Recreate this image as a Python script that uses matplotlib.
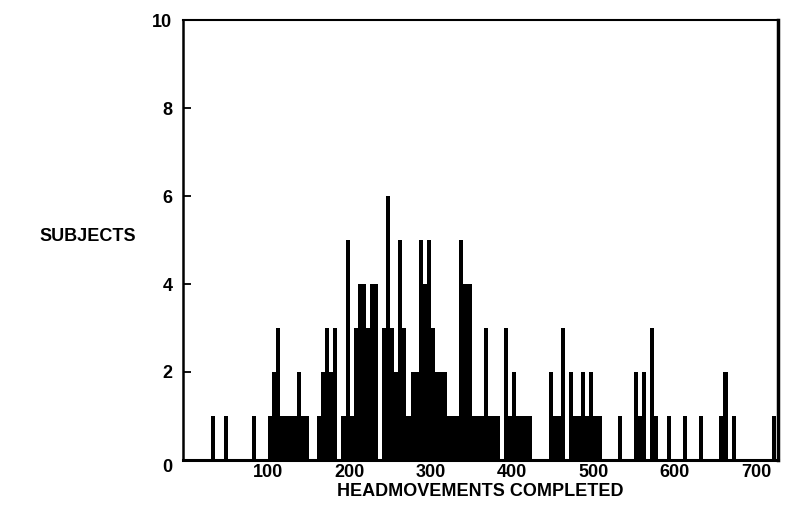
import matplotlib
matplotlib.use("Agg")
import matplotlib.pyplot as plt
from matplotlib.ticker import FixedLocator, NullLocator

# Histogram of head movements completed per subject (bin width 5)
bin_width = 5
bin_left = [30, 45, 80,
            100, 105, 110, 115, 120, 125, 130, 135, 140, 145,
            160, 165, 170, 175, 180,
            190, 195, 200,
            205, 210, 215, 220, 225, 230,
            240, 245, 250, 255, 260, 265, 270,
            275, 280, 285, 290, 295, 300, 305, 310, 315,
            320, 325, 330, 335, 340, 345,
            350, 355, 360, 365, 370, 375, 380,
            390, 395, 400, 405, 410, 415, 420,
            445, 450, 455, 460,
            470, 475, 480, 485, 490, 495, 500, 505,
            530, 550, 555, 560, 570, 575, 590, 610, 630,
            655, 660, 670, 720]
subjects = [1, 1, 1,
            1, 2, 3, 1, 1, 1, 1, 2, 1, 1,
            1, 2, 3, 2, 3,
            1, 5, 1,
            3, 4, 4, 3, 4, 4,
            3, 6, 3, 2, 5, 3, 1,
            2, 2, 5, 4, 5, 3, 2, 2, 2,
            1, 1, 1, 5, 4, 4,
            1, 1, 1, 3, 1, 1, 1,
            3, 1, 2, 1, 1, 1, 1,
            2, 1, 1, 3,
            2, 1, 1, 2, 1, 2, 1, 1,
            1, 2, 1, 2, 3, 1, 1, 1, 1,
            1, 2, 1, 1]

x_ticks = [100, 200, 300, 400, 500, 600, 700]
y_ticks = [2, 4, 6, 8, 10]

plt.rcParams['font.family'] = ['Liberation Sans', 'DejaVu Sans']
plt.rcParams['font.weight'] = 'bold'

fig = plt.figure(figsize=(7.94, 5.2), dpi=100)
ax = fig.add_axes([0.2311, 0.1154, 0.9798 - 0.2311, 0.9615 - 0.1154])

ax.bar(bin_left, subjects, width=bin_width, align='edge',
       color='black', edgecolor='none', linewidth=0)

ax.set_xlim(-4.3, 727)
ax.set_ylim(0, 10)

ax.xaxis.set_major_locator(FixedLocator(x_ticks))
ax.set_xticklabels([str(v) for v in x_ticks], fontsize=13, fontweight='bold')
ax.tick_params(axis='x', length=0, pad=3)

ax.yaxis.set_major_locator(FixedLocator(y_ticks))
ax.set_yticklabels([str(v) for v in y_ticks], fontsize=13, fontweight='bold')
ax.tick_params(axis='y', direction='in', length=6, width=1.3, pad=8)
ax.yaxis.set_minor_locator(NullLocator())

ax.spines['left'].set_linewidth(1.8)
ax.spines['bottom'].set_linewidth(2.2)
ax.spines['top'].set_linewidth(1.5)
ax.spines['right'].set_linewidth(2.5)

# shared origin label at the lower-left corner
fig.text(167 / 794, 1 - 467 / 520, "0", fontsize=13, fontweight='bold',
         ha='center', va='center')

fig.text(88 / 794, 1 - 237 / 520, "SUBJECTS", fontsize=13, fontweight='bold',
         ha='center', va='center')
fig.text(480 / 794, 1 - 492 / 520, "HEADMOVEMENTS COMPLETED", fontsize=13,
         fontweight='bold', ha='center', va='center')

fig.savefig("out.png", dpi=100, facecolor='white')
